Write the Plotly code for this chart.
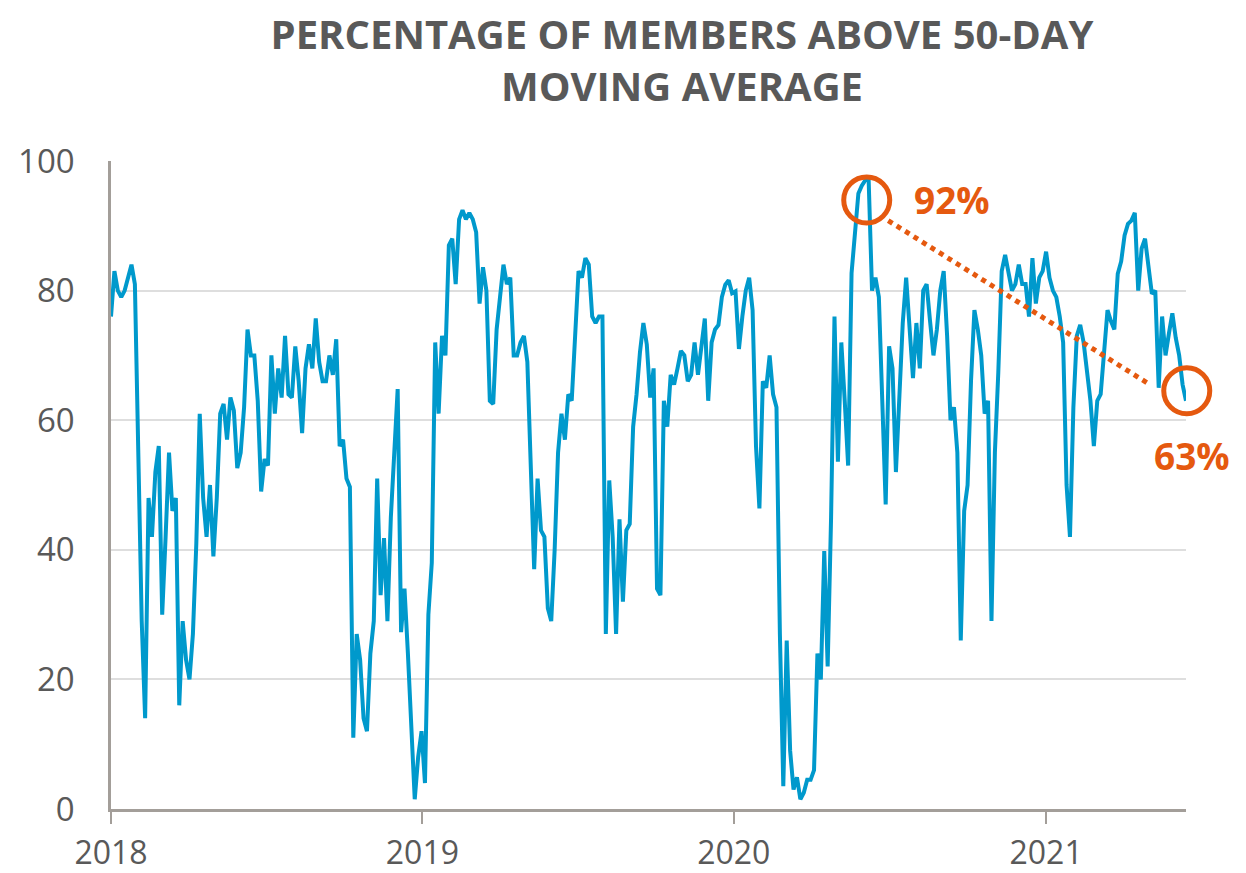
import pandas as pd
import plotly.graph_objects as go

# Percentage of members above 50-day moving average, sampled every 4 days from 2018-01-01
start_date = "2018-01-01"
step = "4D"
pct_2018 = [
    76, 83, 80, 79, 80, 82, 84, 81, 55, 29,
    14, 48, 42, 52, 56, 30, 42, 55, 46, 48,
    16, 29, 23, 20, 27, 41, 61, 48, 42, 50,
    39, 48, 61, 62.5, 57, 63.5, 61.5, 52.6, 55, 62,
    74, 70, 70, 63, 49, 54, 53, 70, 61, 68,
    63.5, 73, 64, 63.5, 71.4, 66, 58, 68, 71.7, 68,
]
pct_2018b = [
    75.7, 69, 66, 66, 70, 67, 72.5, 56, 57, 51,
    49.7, 11, 27, 23, 14, 12, 24, 29, 51, 33,
    41.8, 29, 45, 56, 64.8, 27.3, 34, 24, 12, 1.5,
    8, 12, 4, 30, 38, 72, 61, 73, 70, 87,
    88, 81, 91, 92.4, 91, 92, 91, 89, 78, 83.6,
    80, 63, 62.5, 74, 79, 84, 81, 82, 70, 70,
    72, 73,
]
pct_2019 = [
    69, 55, 37, 51, 43, 42, 31, 29, 40, 55,
    61, 57, 64, 63, 74, 83, 82, 85, 84, 76,
    75, 76, 76, 27, 50.7, 42, 27, 44.7, 32, 43,
    44, 59, 64, 70.5, 75, 71.7, 63.5, 68, 34, 33,
    63, 59, 67, 65.5, 68, 70.7, 70, 66, 67, 72,
    67, 71, 75.7, 63, 72, 74, 74.7, 79, 80.9, 81.6,
    79.6,
]
pct_2020 = [
    79.9, 71, 76, 80, 82, 77, 56, 46.4, 66, 65,
    70, 64, 62, 27, 3.5, 26, 9, 3, 4.9, 1.5,
    2.5, 4.5, 4.5, 6, 24, 20, 39.8, 22, 45, 76,
    53.6, 72, 63, 53, 82.7, 89, 95, 96.2, 97, 97.2,
    80, 82, 79, 63, 47, 71.4, 68, 52, 65, 75,
    82, 74, 66.5, 75, 68, 80, 81, 75.3, 70, 74,
    80, 83,
]
pct_2021 = [
    73, 60, 62, 55, 26, 46, 50, 66, 77, 74,
    70, 61, 63, 29, 55, 67.4, 83, 85.5, 83, 80,
    81, 84, 81, 81, 76, 85, 78, 82, 83, 86,
    82, 80, 79, 76, 72, 50, 42, 62, 73, 74.7,
    72, 68, 63, 56, 63, 64, 71, 77, 75.3, 74,
    82.6, 84.5, 88.5, 90.3, 90.8, 92, 80, 86.5, 88, 84.2,
    79.5, 80, 65, 76, 70, 73.4, 76.5, 72.7, 70, 65.5,
    63,
]
values = pct_2018 + pct_2018b + pct_2019 + pct_2020 + pct_2021
dates = pd.date_range(start_date, periods=len(values), freq=step)

year_ticks = ["2018-01-01", "2019-01-01", "2020-01-01", "2021-01-01"]
year_labels = ["2018", "2019", "2020", "2021"]
y_ticks = [0, 20, 40, 60, 80, 100]

peak_label = "92%"
last_label = "63%"
trend_start = ("2020-06-30", 90.8)
trend_end = ("2021-04-29", 65.8)

BLUE = "#0099CC"
ORANGE = "#E5590F"
GRAY_TXT = "#595959"
AXIS = "#A39E99"
GRID = "#DEDEDE"

W, H = 1246, 873

fig = go.Figure()
fig.add_trace(go.Scatter(
    x=dates, y=values, mode="lines",
    line=dict(color=BLUE, width=4),
    hoverinfo="x+y", showlegend=False,
))

# dotted trend line
fig.add_trace(go.Scatter(
    x=[trend_start[0], trend_end[0]], y=[trend_start[1], trend_end[1]],
    mode="lines", line=dict(color=ORANGE, width=5, dash="dot"),
    hoverinfo="skip", showlegend=False,
))

# highlight circles (paper-anchored so they are not clipped at the plot edge)
for px, py in [(0.703, 0.9398), (1.0007, 0.6455)]:
    fig.add_shape(
        type="circle", xref="paper", yref="paper",
        xsizemode="pixel", ysizemode="pixel",
        xanchor=px, yanchor=py,
        x0=-23, x1=23, y0=-23, y1=23,
        line=dict(color=ORANGE, width=5),
    )

fig.add_annotation(text=f"<b>{peak_label}</b>", xref="paper", yref="paper",
                   x=0.782, y=0.94, xanchor="center", yanchor="middle",
                   showarrow=False,
                   font=dict(family="Open Sans", size=37, color=ORANGE))
fig.add_annotation(text=f"<b>{last_label}</b>", xref="paper", yref="paper",
                   x=1.0056, y=0.546, xanchor="center", yanchor="middle",
                   showarrow=False,
                   font=dict(family="Open Sans", size=37, color=ORANGE))

fig.update_layout(
    width=W, height=H,
    margin=dict(l=111, r=60, t=161, b=64),
    paper_bgcolor="white", plot_bgcolor="white",
    title=dict(
        text="<b>PERCENTAGE OF MEMBERS ABOVE 50-DAY<br>MOVING AVERAGE</b>",
        x=682 / W, xanchor="center", xref="container",
        y=1 - 49 / H, yanchor="middle", yref="container",
        font=dict(family="Open Sans", size=40, color=GRAY_TXT),
    ),
    font=dict(family="Open Sans", color=GRAY_TXT),
)

fig.update_xaxes(
    type="date", range=["2018-01-01", "2021-06-14"],
    tickvals=year_ticks, ticktext=year_labels,
    ticks="outside", ticklen=12, tickwidth=2, tickcolor=AXIS,
    showline=True, linecolor=AXIS, linewidth=2.5,
    showgrid=False, zeroline=False, automargin=False,
    tickfont=dict(family="Open Sans", size=32, color=GRAY_TXT),
    ticklabelstandoff=2,
)
fig.update_yaxes(
    range=[0, 100], tickvals=y_ticks,
    showline=True, linecolor=AXIS, linewidth=2.5,
    showgrid=True, gridcolor=GRID, gridwidth=1.5,
    zeroline=False, ticks="", automargin=False,
    tickfont=dict(family="Open Sans", size=33, color=GRAY_TXT),
    ticklabelstandoff=27,
)

fig.write_html(
    "out.html",
    config={"displayModeBar": False},
    post_script="document.body.style.margin='0';document.body.style.overflow='hidden';",
)
